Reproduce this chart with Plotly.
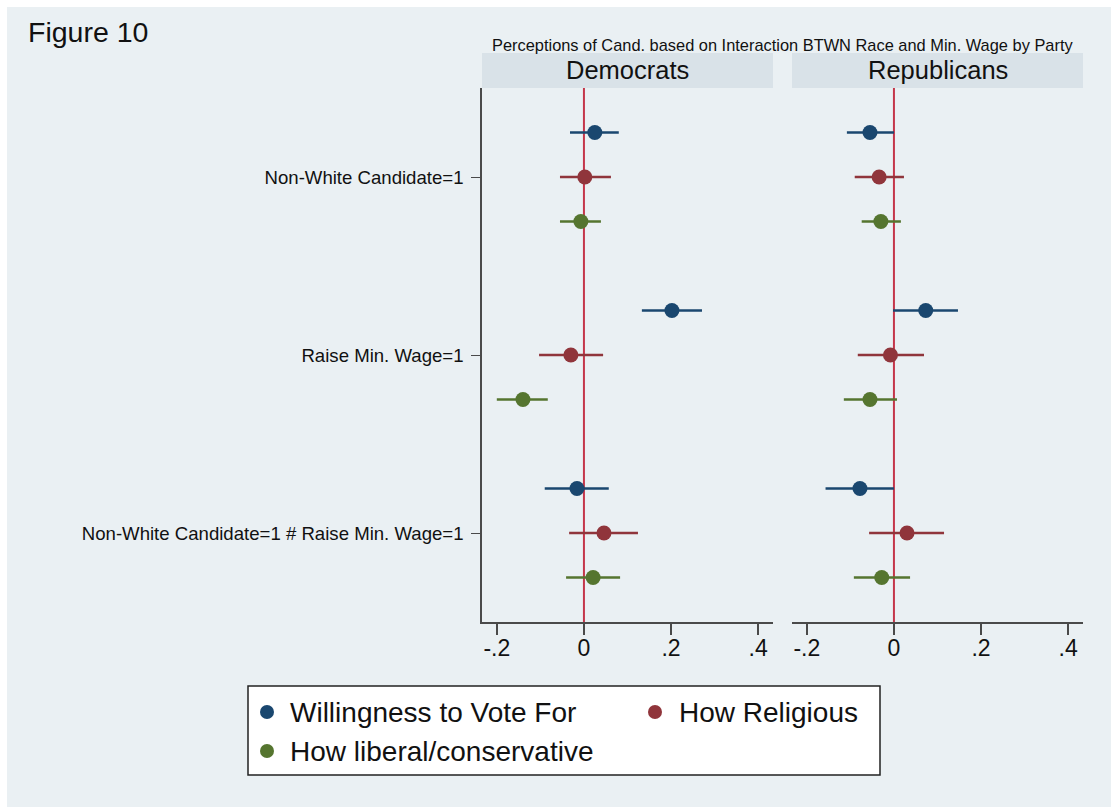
import plotly.graph_objects as go

# ---- coefficient estimates and 95% confidence intervals ----
terms = ["Non-White Candidate=1", "Raise Min. Wage=1",
         "Non-White Candidate=1 # Raise Min. Wage=1"]

series_names = ["Willingness to Vote For", "How Religious", "How liberal/conservative"]
series_colors = ["#1a476f", "#90353b", "#55752f"]

dem_vote = [0.025, 0.202, -0.016]
dem_vote_lo = [-0.032, 0.133, -0.090]
dem_vote_hi = [0.080, 0.271, 0.057]

dem_rel = [0.002, -0.030, 0.046]
dem_rel_lo = [-0.055, -0.103, -0.034]
dem_rel_hi = [0.062, 0.044, 0.124]

dem_lib = [-0.007, -0.140, 0.021]
dem_lib_lo = [-0.055, -0.200, -0.041]
dem_lib_hi = [0.039, -0.083, 0.083]

rep_vote = [-0.055, 0.073, -0.078]
rep_vote_lo = [-0.108, -0.002, -0.157]
rep_vote_hi = [0.000, 0.147, 0.000]

rep_rel = [-0.034, -0.008, 0.030]
rep_rel_lo = [-0.090, -0.083, -0.057]
rep_rel_hi = [0.023, 0.069, 0.115]

rep_lib = [-0.030, -0.055, -0.028]
rep_lib_lo = [-0.074, -0.115, -0.092]
rep_lib_hi = [0.016, 0.007, 0.037]

x_ticks = [-0.2, 0.0, 0.2, 0.4]
x_tick_text = ["-.2", "0", ".2", ".4"]

panels = ["Democrats", "Republicans"]

# ---- layout helpers (pixel -> paper) ----
W, H = 1111, 807
def px(x):
    return x / W
def py(y):
    return 1 - y / H

FONT = "Liberation Sans, Arial, Helvetica, sans-serif"
BG = "#eaf0f3"
STRIP = "#d9e2e8"
AXIS = "#4a4a4a"
REF = "#c4364a"

fig = go.Figure()

panel_data = [
    [(dem_vote, dem_vote_lo, dem_vote_hi),
     (dem_rel, dem_rel_lo, dem_rel_hi),
     (dem_lib, dem_lib_lo, dem_lib_hi)],
    [(rep_vote, rep_vote_lo, rep_vote_hi),
     (rep_rel, rep_rel_lo, rep_rel_hi),
     (rep_lib, rep_lib_lo, rep_lib_hi)],
]
offsets = [-0.25, 0.0, 0.25]

for p, pdata in enumerate(panel_data):
    xa = "x" if p == 0 else "x2"
    ya = "y" if p == 0 else "y2"
    for s, (est, lo, hi) in enumerate(pdata):
        ys = [i + 1 + offsets[s] for i in range(len(terms))]
        fig.add_trace(go.Scatter(
            x=est, y=ys, mode="markers", xaxis=xa, yaxis=ya,
            name=series_names[s], showlegend=False,
            marker=dict(color=series_colors[s], size=15, line=dict(width=0)),
            error_x=dict(type="data", symmetric=False,
                         array=[h - e for h, e in zip(hi, est)],
                         arrayminus=[e - l for e, l in zip(est, lo)],
                         color=series_colors[s], thickness=2.6, width=0),
        ))

# panel geometry
left_dom = [px(482), px(773)]
right_dom = [px(792), px(1083)]
y_dom = [py(622), py(88)]
x_range = [-0.234, 0.434]

xaxis_common = dict(range=x_range, tickvals=x_ticks, ticktext=x_tick_text,
                    ticks="outside", ticklen=11, tickwidth=1.5, tickcolor=AXIS,
                    ticklabelstandoff=-6,
                    showline=True, linecolor=AXIS, linewidth=1.5,
                    showgrid=False, zeroline=False,
                    tickfont=dict(family=FONT, size=23, color="#111"),
                    fixedrange=True)

fig.update_layout(
    width=W, height=H, autosize=False,
    margin=dict(l=0, r=0, t=0, b=0),
    paper_bgcolor="white", plot_bgcolor="white",
    xaxis=dict(domain=left_dom, anchor="y", **xaxis_common),
    xaxis2=dict(domain=right_dom, anchor="y2", **xaxis_common),
    yaxis=dict(domain=y_dom, range=[3.5, 0.5], anchor="x",
               tickvals=[1, 2, 3], ticktext=terms,
               ticks="outside", ticklen=9, tickwidth=1.2, tickcolor=AXIS,
               ticklabelstandoff=4,
               showline=True, linecolor=AXIS, linewidth=1.5,
               showgrid=False, zeroline=False,
               tickfont=dict(family=FONT, size=18.6, color="#111")),
    yaxis2=dict(domain=y_dom, range=[3.5, 0.5], anchor="x2",
                showticklabels=False, ticks="", showline=False,
                showgrid=False, zeroline=False),
    showlegend=False,
)

shapes = []
# figure background with thin white frame on top/left
shapes.append(dict(type="rect", xref="paper", yref="paper", layer="below",
                   x0=px(7), x1=1, y0=0, y1=py(7),
                   fillcolor=BG, line=dict(width=0)))

for p, dom in enumerate([left_dom, right_dom]):
    xr = "x" if p == 0 else "x2"
    yr = "y" if p == 0 else "y2"
    # header strip
    shapes.append(dict(type="rect", xref="paper", yref="paper", layer="below",
                       x0=dom[0], x1=dom[1], y0=py(88), y1=py(53),
                       fillcolor=STRIP, line=dict(width=0)))
    # group separators
    for yv in (1.5, 2.5):
        shapes.append(dict(type="line", xref=f"{xr} domain", yref=yr,
                           x0=0, x1=1, y0=yv, y1=yv,
                           line=dict(color=BG, width=2.5), layer="below"))
    # reference line at zero
    shapes.append(dict(type="line", xref=xr, yref=f"{yr} domain",
                       x0=0, x1=0, y0=0, y1=1,
                       line=dict(color=REF, width=2), layer="below"))

# legend box and markers
shapes.append(dict(type="rect", xref="paper", yref="paper",
                   x0=px(248), x1=px(880), y0=py(775), y1=py(686),
                   fillcolor="white", line=dict(color="#222", width=1.5)))
legend_pos = [(267, 712), (655, 712), (267, 751)]
for (cx, cy), col in zip(legend_pos, series_colors):
    r = 7
    shapes.append(dict(type="circle", xref="paper", yref="paper",
                       x0=px(cx - r), x1=px(cx + r), y0=py(cy + r), y1=py(cy - r),
                       fillcolor=col, line=dict(width=0)))

fig.update_layout(shapes=shapes)

annotations = []
annotations.append(dict(text="Figure 10", xref="paper", yref="paper",
                        x=px(26), y=py(32), xanchor="left", yanchor="middle",
                        showarrow=False, font=dict(family=FONT, size=28.5, color="#111")))
annotations.append(dict(text="Perceptions of Cand. based on Interaction BTWN Race and Min. Wage by Party",
                        xref="paper", yref="paper", x=px(782.5), y=py(45),
                        xanchor="center", yanchor="middle", showarrow=False,
                        font=dict(family=FONT, size=16.4, color="#111")))
for name, dom in zip(panels, [left_dom, right_dom]):
    annotations.append(dict(text=name, xref="paper", yref="paper",
                            x=(dom[0] + dom[1]) / 2, y=py(70),
                            xanchor="center", yanchor="middle", showarrow=False,
                            font=dict(family=FONT, size=25.5, color="#111")))
legend_text_x = [288, 677, 288]
for (cx, cy), tx, name in zip(legend_pos, legend_text_x, series_names):
    annotations.append(dict(text=name, xref="paper", yref="paper",
                            x=px(tx), y=py(cy), xanchor="left", yanchor="middle",
                            showarrow=False,
                            font=dict(family=FONT, size=28, color="#111")))
fig.update_layout(annotations=annotations)

fig.write_html("out.html")
